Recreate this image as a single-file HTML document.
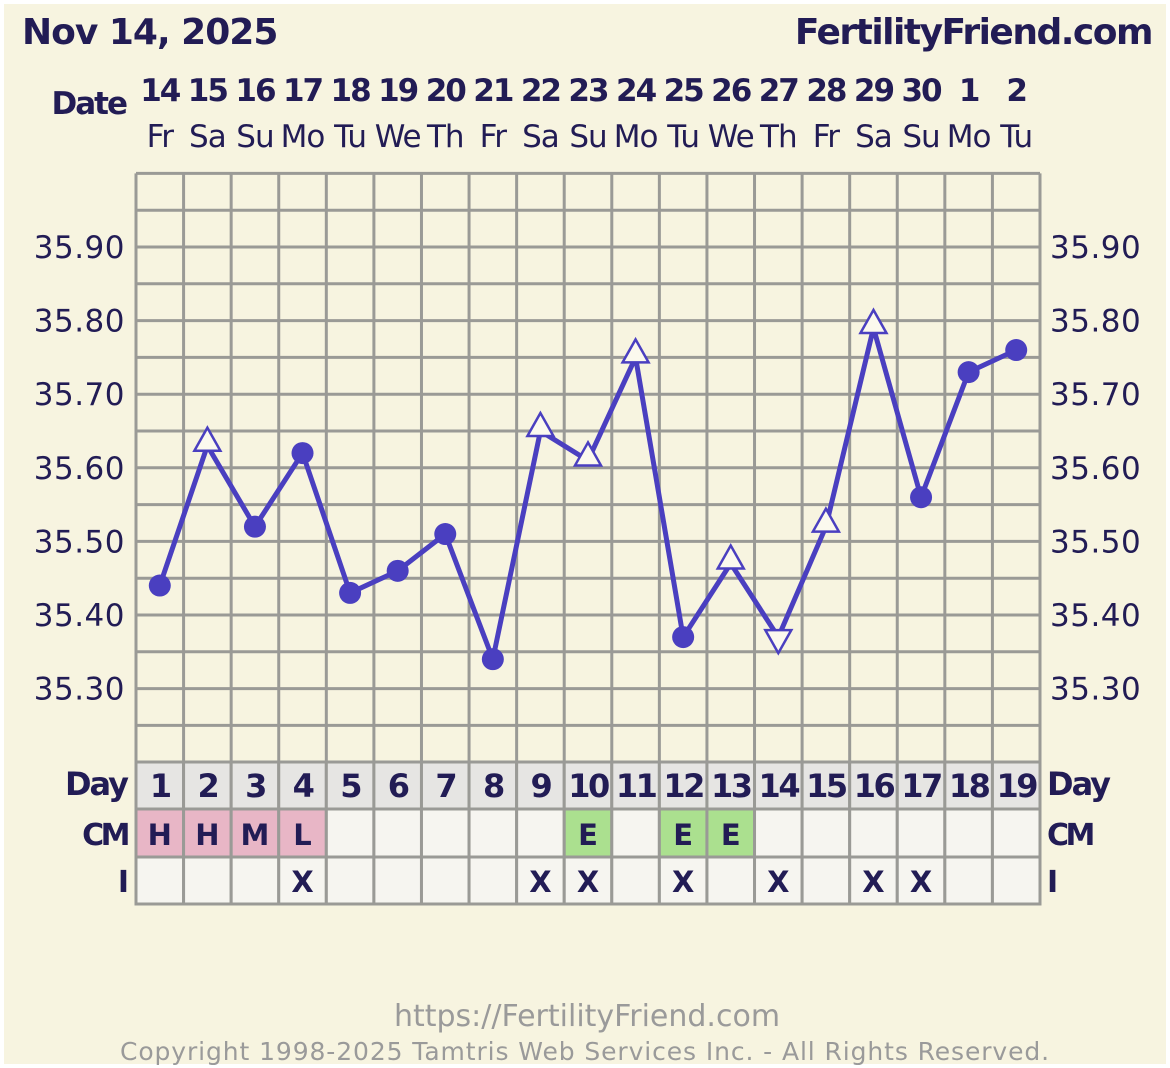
<!DOCTYPE html>
<html><head><meta charset="utf-8"><style>
html,body{margin:0;padding:0;background:#fff;}
svg{display:block;}
text{font-family:"DejaVu Sans","Liberation Sans",sans-serif;fill:#221c55;}
</style></head><body>
<svg id="chart" width="1170" height="1068" viewBox="0 0 1170 1068">
<rect x="4" y="4" width="1162" height="1060" fill="#f7f4e0"/>
<text x="22" y="44" font-size="36" font-weight="bold" letter-spacing="-1">Nov 14, 2025</text>
<text x="1152" y="44" font-size="36" font-weight="bold" text-anchor="end" letter-spacing="-1.5">FertilityFriend.com</text>
<text x="126" y="114" font-size="31" font-weight="bold" text-anchor="end" letter-spacing="-2">Date</text>
<g id="grid"></g>
<g id="axes"></g>
<g id="table"></g>
<g id="series"></g>
<text x="587" y="1026" font-size="30" text-anchor="middle" style="fill:#9a9a9a">https://FertilityFriend.com</text>
<text x="585" y="1060" font-size="25" text-anchor="middle" letter-spacing="0.9" style="fill:#9a9a9a">Copyright 1998-2025 Tamtris Web Services Inc. - All Rights Reserved.</text>
</svg>
<script>
const dates = ["14","15","16","17","18","19","20","21","22","23","24","25","26","27","28","29","30","1","2"];
const weekdays = ["Fr","Sa","Su","Mo","Tu","We","Th","Fr","Sa","Su","Mo","Tu","We","Th","Fr","Sa","Su","Mo","Tu"];
const temps = [35.44,35.63,35.52,35.62,35.43,35.46,35.51,35.34,35.65,35.61,35.75,35.37,35.47,35.37,35.52,35.79,35.56,35.73,35.76];
const markers = ["c","t","c","c","c","c","c","c","t","t","t","c","t","v","t","t","c","c","c"];
const cm = ["H","H","M","L","","","","","","E","","E","E","","","","","",""];
const intercourse = ["","","","X","","","","","X","X","","X","","X","","X","X","",""];
const yTicks = [35.30,35.40,35.50,35.60,35.70,35.80,35.90];

const NS="http://www.w3.org/2000/svg";
const gL=136,gR=1040,nCols=dates.length,cw=(gR-gL)/nCols;
const gTop=173.4,gBot=762.2,vTop=36.0,vBot=35.20;
const X=i=>gL+cw*(i+0.5);
const Y=v=>gTop+(vTop-v)/(vTop-vBot)*(gBot-gTop);
function mk(tag,attrs,parent,txt){const e=document.createElementNS(NS,tag);for(const k in attrs)e.setAttribute(k,attrs[k]);if(txt!==undefined)e.textContent=txt;parent.appendChild(e);return e;}

const grid=document.getElementById('grid');
for(let k=0;k<=16;k++){
  const y=Y(vBot+k*0.05);
  const ln=mk('line',{x1:gL,x2:gR,y1:y,y2:y,stroke:'#9a9a96','stroke-width':3},grid);
  
  
}
for(let i=0;i<=nCols;i++){
  const x=gL+cw*i;
  const ln=mk('line',{x1:x,x2:x,y1:gTop,y2:gBot,stroke:'#9a9a96','stroke-width':3},grid);
  
  
}

const axes=document.getElementById('axes');
yTicks.forEach(v=>{
  const y=Y(v)+11;
  const a=mk('text',{x:125,y:y,'font-size':31,'text-anchor':'end','letter-spacing':'0.5'},axes,v.toFixed(2));
  
  
  const b=mk('text',{x:1050,y:y,'font-size':31,'letter-spacing':'0.5'},axes,v.toFixed(2));
  
  
});
dates.forEach((d,i)=>{
  const t=mk('text',{x:X(i),y:101,'font-size':31,'font-weight':'bold','text-anchor':'middle','letter-spacing':'-2'},axes,d);
  
  
  const w=mk('text',{x:X(i),y:147,'font-size':31,'text-anchor':'middle','letter-spacing':'-1'},axes,weekdays[i]);
  
  
});

const table=document.getElementById('table');
for(let i=0;i<nCols;i++){
  const x=gL+cw*i;
  const c1=mk('rect',{x:x,y:762,width:cw,height:47,fill:'#e6e5e3',stroke:'#9a9a96','stroke-width':3},table);
  
  
  const t1=mk('text',{x:X(i),y:797,'font-size':32,'font-weight':'bold','text-anchor':'middle','letter-spacing':'-2.5'},table,String(i+1));
  
  
  const f=cm[i]==='E'?'#abe08f':(cm[i]?'#e8b6c6':'#f6f5f0');
  const c2=mk('rect',{x:x,y:809,width:cw,height:48,fill:f,stroke:'#9a9a96','stroke-width':3},table);
  
  
  if(cm[i]){const t2=mk('text',{x:X(i),y:845,'font-size':29,'font-weight':'bold','text-anchor':'middle'},table,cm[i]);
    
    }
  const c3=mk('rect',{x:x,y:857,width:cw,height:47,fill:'#f6f5f0',stroke:'#9a9a96','stroke-width':3},table);
  
  
  if(intercourse[i]){const t3=mk('text',{x:X(i),y:892,'font-size':29,'font-weight':'bold','text-anchor':'middle'},table,intercourse[i]);
    
    }
}
[['Day',795,32],['CM',845,30],['I',892,30]].forEach(([s,y,fs])=>{
  const a=mk('text',{x:127,y:y,'font-size':fs,'font-weight':'bold','text-anchor':'end','letter-spacing':s==='CM'?'-3.5':'-2'},table,s);
  
  
  const b=mk('text',{x:1047,y:y,'font-size':fs,'font-weight':'bold','letter-spacing':s==='CM'?'-3.5':'-2'},table,s);
  
  
});

const series=document.getElementById('series');
const pts=temps.map((v,i)=>X(i)+','+Y(v)).join(' ');
const pl=mk('polyline',{points:pts,fill:'none',stroke:'#4a3fc0','stroke-width':5,'stroke-linejoin':'round'},series);


temps.forEach((v,i)=>{
  const x=X(i),y=Y(v);let e;
  if(markers[i]==='c'){
    e=mk('circle',{cx:x,cy:y,r:11,fill:'#4a3fc0'},series);
  }else if(markers[i]==='t'){
    e=mk('polygon',{points:`${x},${y-18} ${x-13},${y+5} ${x+13},${y+5}`,fill:'#fbf9ee',stroke:'#4a3fc0','stroke-width':2.5},series);
  }else{
    e=mk('polygon',{points:`${x},${y+16} ${x-13},${y-7} ${x+13},${y-7}`,fill:'#fbf9ee',stroke:'#4a3fc0','stroke-width':2.5},series);
  }
  
  
});
</script>
</body></html>
